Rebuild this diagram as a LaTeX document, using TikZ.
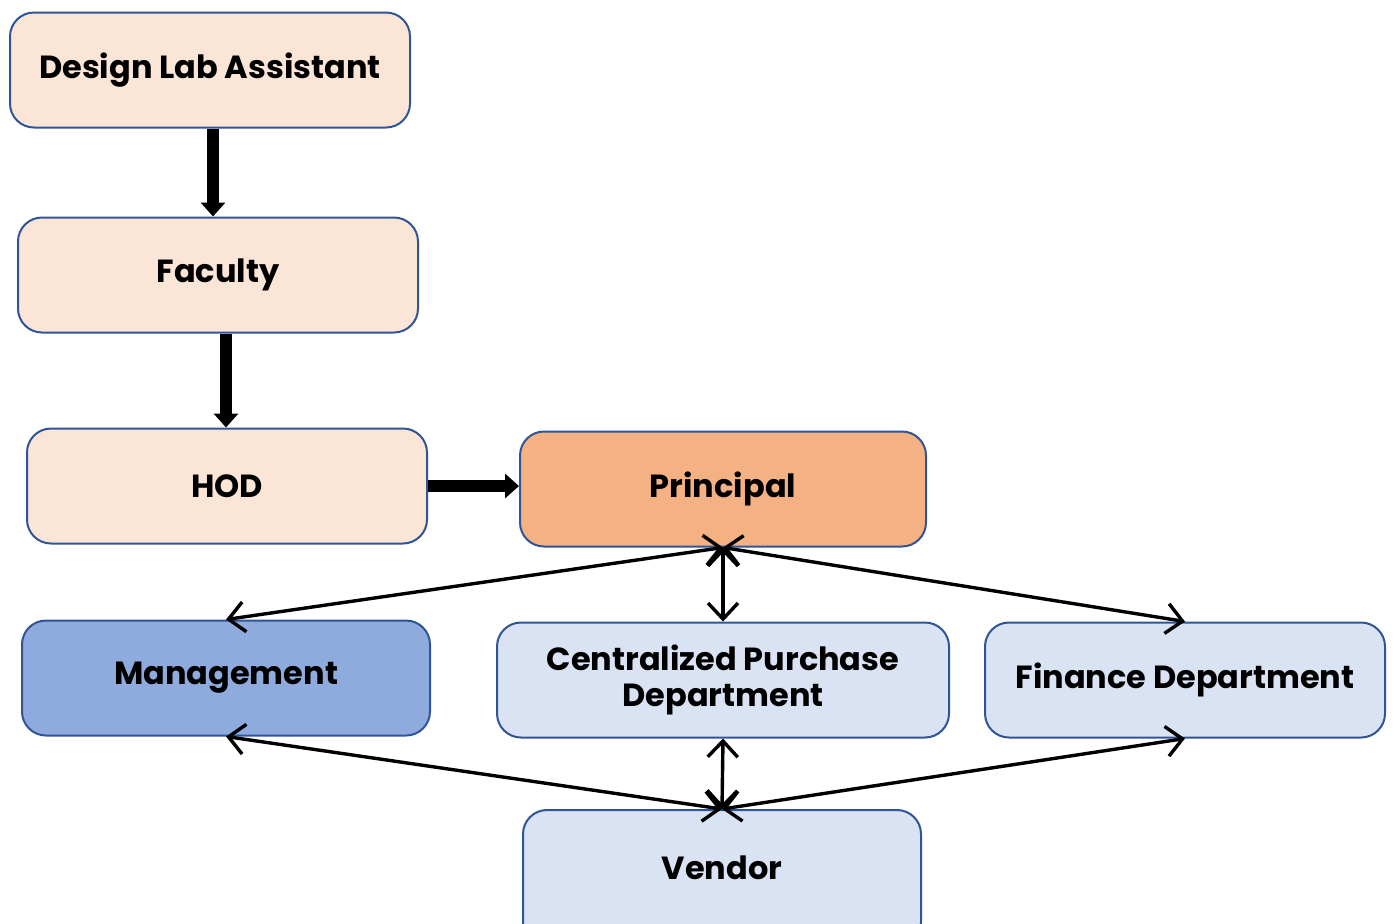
\documentclass[tikz,border=0pt]{standalone}
\usepackage{fontspec}
\setmainfont{Poppins}
\usepackage{tikz}
\usetikzlibrary{arrows.meta}
\definecolor{peach}{RGB}{251,229,214}
\definecolor{orangefill}{RGB}{244,177,131}
\definecolor{bluefill}{RGB}{143,170,220}
\definecolor{lightblue}{RGB}{218,227,243}
\definecolor{edge}{RGB}{47,85,151}
\tikzset{
  box/.style={draw=edge,line width=1pt,rounded corners=12pt,minimum height=57.5pt,
    align=center,font=\bfseries\fontsize{16}{18}\selectfont,inner sep=2pt},
  bigarrow/.style={line width=6pt,-{Triangle[width=12pt,length=7pt]}},
  link/.style={line width=1.7pt,{Straight Barb[length=8pt,width=15pt]}-{Straight Barb[length=8pt,width=15pt]}},
  tallbox/.style={minimum height=68pt,text depth=10pt}
}
\begin{document}
\begin{tikzpicture}[x=0.5pt,y=-0.5pt]
\useasboundingbox (0,0) rectangle (1395,923);
\foreach \n/\x/\w/\o/\l/\f in{
dla/{(210,70)}/200pt/{}/{Design Lab Assistant}/peach,
fac/{(218,275)}/200pt/{}/{Faculty}/peach,
hod/{(227,486)}/200pt/{}/{HOD}/peach,
pri/{(723,489)}/203pt/{}/{Principal}/orangefill,
man/{(226,678)}/204pt/{}/{Management}/bluefill,
cpd/{(723,680)}/226pt/{}/{Centralized Purchase\\Department}/lightblue,
fin/{(1185,680)}/200pt/{}/{Finance Department}/lightblue,
ven/{(722,878)}/199pt/tallbox/{Vendor}/lightblue}
{
        \node[box,fill=\f,minimum width=\w,\o] (\n) at \x {\l};
    }
\draw[bigarrow] (dla.south -| 213,0) -- (fac.north -| 213,0);
\draw[bigarrow] (fac.south -| 226,0) -- (hod.north -| 226,0);
\draw[bigarrow] (hod.east) -- (pri.west |- hod.east);
\draw[link] (man.north) -- (pri.south);
\draw[link] (pri.south) -- (cpd.north);
\draw[link] (pri.south) -- (fin.north);
\draw[link] (man.south) -- (ven.north);
\draw[link] (cpd.south) -- (ven.north);
\draw[link] (fin.south) -- (ven.north);
\end{tikzpicture}
\end{document}
